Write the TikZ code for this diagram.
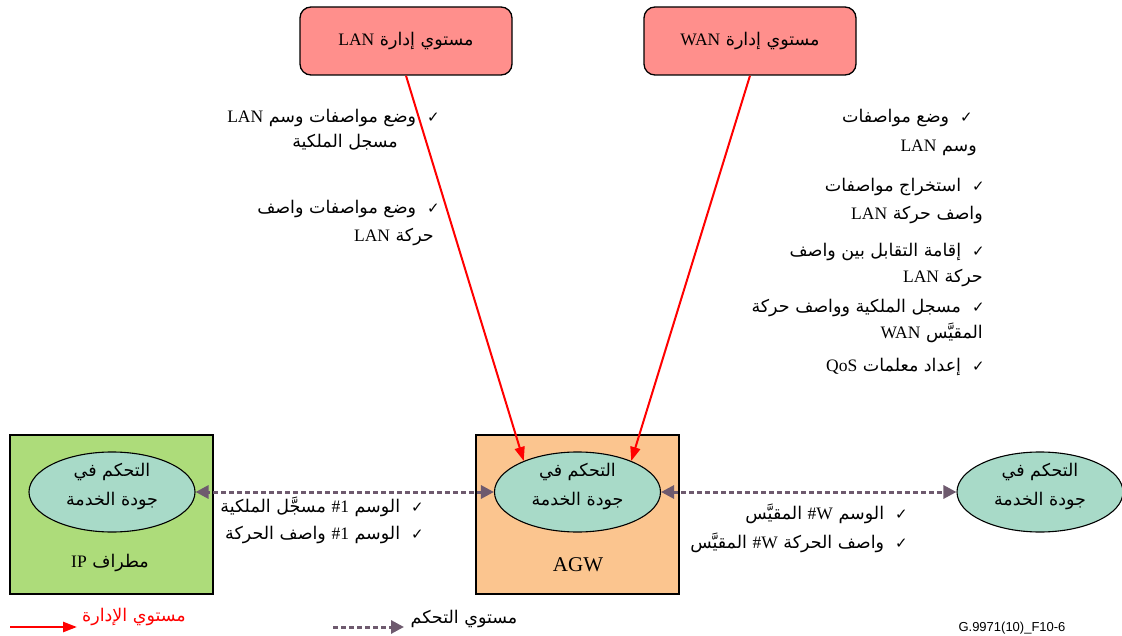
\documentclass[tikz,border=0pt]{standalone}
\usepackage{fontspec}
\setmainfont{Liberation Serif}
\newfontfamily\arfont[Script=Arabic,Scale=1.0]{DejaVu Sans}
\newfontfamily\chkfont{DejaVu Sans}
\newfontfamily\figsans{Liberation Sans}
\TeXXeTstate=1
\usetikzlibrary{shapes.geometric,arrows.meta}
\newcommand\ar[1]{{\arfont\beginR #1\endR}}
\newcommand\lt[1]{\beginL{\rmfamily #1}\endL}
\newcommand\ck{{\chkfont\fontsize{15}{15}\selectfont ✓}\ \ }
\definecolor{mgmtfill}{RGB}{255,143,140}
\definecolor{ipgreen}{RGB}{173,220,122}
\definecolor{agworange}{RGB}{251,197,143}
\definecolor{qosfill}{RGB}{168,218,200}
\definecolor{ctrlc}{RGB}{110,90,110}
\begin{document}
\begin{tikzpicture}[x=1pt,y=-1pt,
  font=\fontsize{17.5}{20}\selectfont,
  mgmt/.style={draw=black, line width=1.3pt, fill=mgmtfill, rounded corners=11pt,
    minimum width=212pt, minimum height=68pt, inner sep=0pt},
  devbox/.style={draw=black, line width=1.3pt, minimum width=203pt, minimum height=159pt, inner sep=0pt},
  qos/.style={ellipse, draw=black, line width=1.1pt, fill=qosfill, minimum width=166pt,
    minimum height=80pt, inner sep=0pt},
  qoslbl/.style={inner sep=0pt, align=center},
  txt/.style={inner sep=0pt, anchor=east},
  mgmtarrow/.style={draw=red, line width=2pt, -{Triangle[length=14pt,width=10pt]}},
  ctrl/.style={draw=ctrlc, line width=3pt, dash pattern=on 5pt off 3pt,
    {Triangle[length=13pt,width=13pt]}-{Triangle[length=13pt,width=13pt]}},
  ctrlone/.style={draw=ctrlc, line width=3pt, dash pattern=on 5pt off 3pt,
    -{Triangle[length=13pt,width=13pt]}}
]
\useasboundingbox (0,0) rectangle (1122,636);

% management boxes
\node[mgmt] (lan) at (406,41) {\ar{مستوي إدارة \lt{LAN}}};
\node[mgmt] (wan) at (750,41) {\ar{مستوي إدارة \lt{WAN}}};

% device boxes
\node[devbox, fill=ipgreen] (ipbox) at (111.5,514.5) {};
\node[devbox, fill=agworange] (agwbox) at (577.5,514.5) {};

% QoS ellipses
\node[qos] (ipq) at (112,492) {};
\node[qos] (agwq) at (577.5,492) {};
\node[qos] (rq) at (1040,492) {};
\node[qoslbl] (ipqt) at (112,486) {\ar{التحكم في}\\[9pt]\ar{جودة الخدمة}};
\node[qoslbl] (agwqt) at (577.5,486) {\ar{التحكم في}\\[9pt]\ar{جودة الخدمة}};
\node[qoslbl] (rqt) at (1040,486) {\ar{التحكم في}\\[9pt]\ar{جودة الخدمة}};

\node (iplbl) at (110,563) {\ar{مطراف \lt{IP}}};
\node (agwlbl) at (578,565) {\fontsize{21}{24}\selectfont AGW};

% connectors
\draw[mgmtarrow] (lan.south) -- (agwq.150);
\draw[mgmtarrow] (wan.south) -- (agwq.30);
\draw[ctrl] (agwq.west) -- (ipq.east);
\draw[ctrl] (agwq.east) -- (rq.west);

% left text block
\node[txt] (l1a) at (440,118) {\ar{\ck وضع مواصفات وسم \lt{LAN}}};
\node[txt] (l1b) at (398,142) {\ar{مسجل الملكية}};
\node[txt] (l2a) at (440,209) {\ar{\ck وضع مواصفات واصف}};
\node[txt] (l2b) at (434,237) {\ar{حركة \lt{LAN}}};

% right text block
\node[txt] (r1a) at (973,118) {\ar{\ck وضع مواصفات}};
\node[txt] (r1b) at (977,148) {\ar{وسم \lt{LAN}}};
\node[txt] (r2a) at (985,187) {\ar{\ck استخراج مواصفات}};
\node[txt] (r2b) at (983,215) {\ar{واصف حركة \lt{LAN}}};
\node[txt] (r3a) at (985,252) {\ar{\ck إقامة التقابل بين واصف}};
\node[txt] (r3b) at (983,278) {\ar{حركة \lt{LAN}}};
\node[txt] (r4a) at (985,308) {\ar{\ck مسجل الملكية وواصف حركة}};
\node[txt] (r4b) at (983,333) {\ar{المقيَّس \lt{WAN}}};
\node[txt] (r5) at (985,367) {\ar{\ck إعداد معلمات \lt{QoS}}};

% connector labels
\node[txt] (m1) at (424,507) {\ar{\ck الوسم \lt{\#1} مسجَّل الملكية}};
\node[txt] (m2) at (424,535) {\ar{\ck الوسم \lt{\#1} واصف الحركة}};
\node[txt] (m3) at (908,514) {\ar{\ck الوسم \lt{\#W} المقيَّس}};
\node[txt] (m4) at (908,543) {\ar{\ck واصف الحركة \lt{\#W} المقيَّس}};

% legend
\coordinate (lm1) at (10,627);
\coordinate (lm2) at (77,627);
\draw[mgmtarrow, line width=2.5pt] (lm1) -- (lm2);
\node[text=red] (mleg) at (134,617) {\ar{مستوي الإدارة}};
\coordinate (lc1) at (333,627);
\coordinate (lc2) at (404,627);
\draw[ctrlone] (lc1) -- (lc2);
\node (cleg) at (464,619) {\ar{مستوي التحكم}};
\node[font=\figsans\fontsize{13}{15}\selectfont] (fig) at (1012,628) {G.9971(10)\_F10-6};
\end{tikzpicture}
\end{document}
